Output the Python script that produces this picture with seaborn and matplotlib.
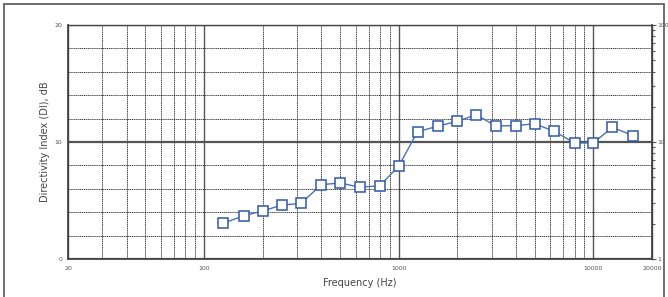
import matplotlib
matplotlib.use("Agg")
import matplotlib.pyplot as plt
import seaborn as sns
import pandas as pd
import numpy as np
from matplotlib.patches import Rectangle

freqs = [125, 160, 200, 250, 315, 400, 500, 630, 800, 1000, 1250, 1600,
         2000, 2500, 3150, 4000, 5000, 6300, 8000, 10000, 12500, 16000]
di_values = [3.05, 3.7, 4.1, 4.6, 4.76, 6.35, 6.5, 6.13, 6.26, 7.95, 10.88, 11.37,
             11.77, 12.33, 11.37, 11.4, 11.56, 10.91, 9.92, 9.92, 11.26, 10.54]
x_major = [20, 100, 1000, 10000, 20000]
x_major_labels = ["20", "100", "1000", "10000", "20000"]
x_minor = [30, 40, 50, 60, 70, 80, 90, 200, 300, 400, 500, 600, 700, 800, 900,
           2000, 3000, 4000, 5000, 6000, 7000, 8000, 9000]
y_major = [0, 10, 20]
y_minor = [2, 4, 6, 8, 12, 14, 16, 18]
right_major = [1, 10, 100]
right_minor = [2, 3, 4, 5, 6, 7, 8, 9, 20, 30, 40, 50, 60, 70, 80, 90]

df = pd.DataFrame({"Frequency": freqs, "DI": di_values})

sns.set_theme(style="white")
plt.rcParams["font.family"] = ["DejaVu Sans"]

fig = plt.figure(figsize=(6.68, 2.97), dpi=100)
ax = fig.add_axes([68/668, 1-259/297, (652-68)/668, (259-25)/297])

sns.lineplot(data=df, x="Frequency", y="DI", ax=ax, color="#4a70b8", lw=1.0,
             marker="s", markersize=6.5, markerfacecolor="white",
             markeredgecolor="#2f58a8", markeredgewidth=1.1, zorder=5)

ax.set_xscale("log")
ax.set_xlim(20, 20000)
ax.set_ylim(0, 20)
ax.set_xticks(x_major)
ax.set_xticklabels(x_major_labels)
ax.set_xticks(x_minor, minor=True)
ax.xaxis.set_minor_formatter(matplotlib.ticker.NullFormatter())
ax.set_yticks(y_major)
ax.set_yticks(y_minor, minor=True)
ax.set_yticklabels([str(v) for v in y_major])

ax.grid(which="major", axis="both", color="#555555", lw=1.0, ls="-")
ax.grid(which="minor", axis="both", color="#222222", lw=0.6, ls=(0, (1.5, 0.8)))
ax.yaxis.grid(which="major", lw=1.6)

ax.tick_params(axis="both", which="both", length=0, labelsize=4.5, colors="#555555", pad=4)
ax.tick_params(axis="x", pad=5)
for s in ax.spines.values():
    s.set_color("#444444")
    s.set_linewidth(1.0)
ax.spines["left"].set_linewidth(1.3)
ax.spines["bottom"].set_linewidth(1.3)

ax.set_xlabel("Frequency (Hz)", fontsize=7, color="#444444", labelpad=5)
ax.set_ylabel("Directivity Index (DI), dB", fontsize=7, color="#444444", labelpad=3)

ax2 = ax.twinx()
ax2.set_yscale("log")
ax2.set_ylim(1, 100)
ax2.set_yticks(right_major)
ax2.set_yticklabels([str(v) for v in right_major])
ax2.set_yticks(right_minor, minor=True)
ax2.yaxis.set_minor_formatter(matplotlib.ticker.NullFormatter())
ax2.tick_params(axis="y", which="major", length=3, width=0.8, labelsize=4.5, colors="#555555", pad=1)
ax2.tick_params(axis="y", which="minor", length=2, width=0.8, colors="#555555")
for s in ax2.spines.values():
    s.set_visible(False)
ax2.spines["right"].set_visible(True)
ax2.spines["right"].set_color("#444444")
ax2.grid(False)

fig.patches.append(Rectangle((4/668, -0.05), 660/668, 1 - 4/297 + 0.05,
                             transform=fig.transFigure, fill=False,
                             edgecolor="#555555", lw=1.2))

fig.savefig("out.png", dpi=100)
